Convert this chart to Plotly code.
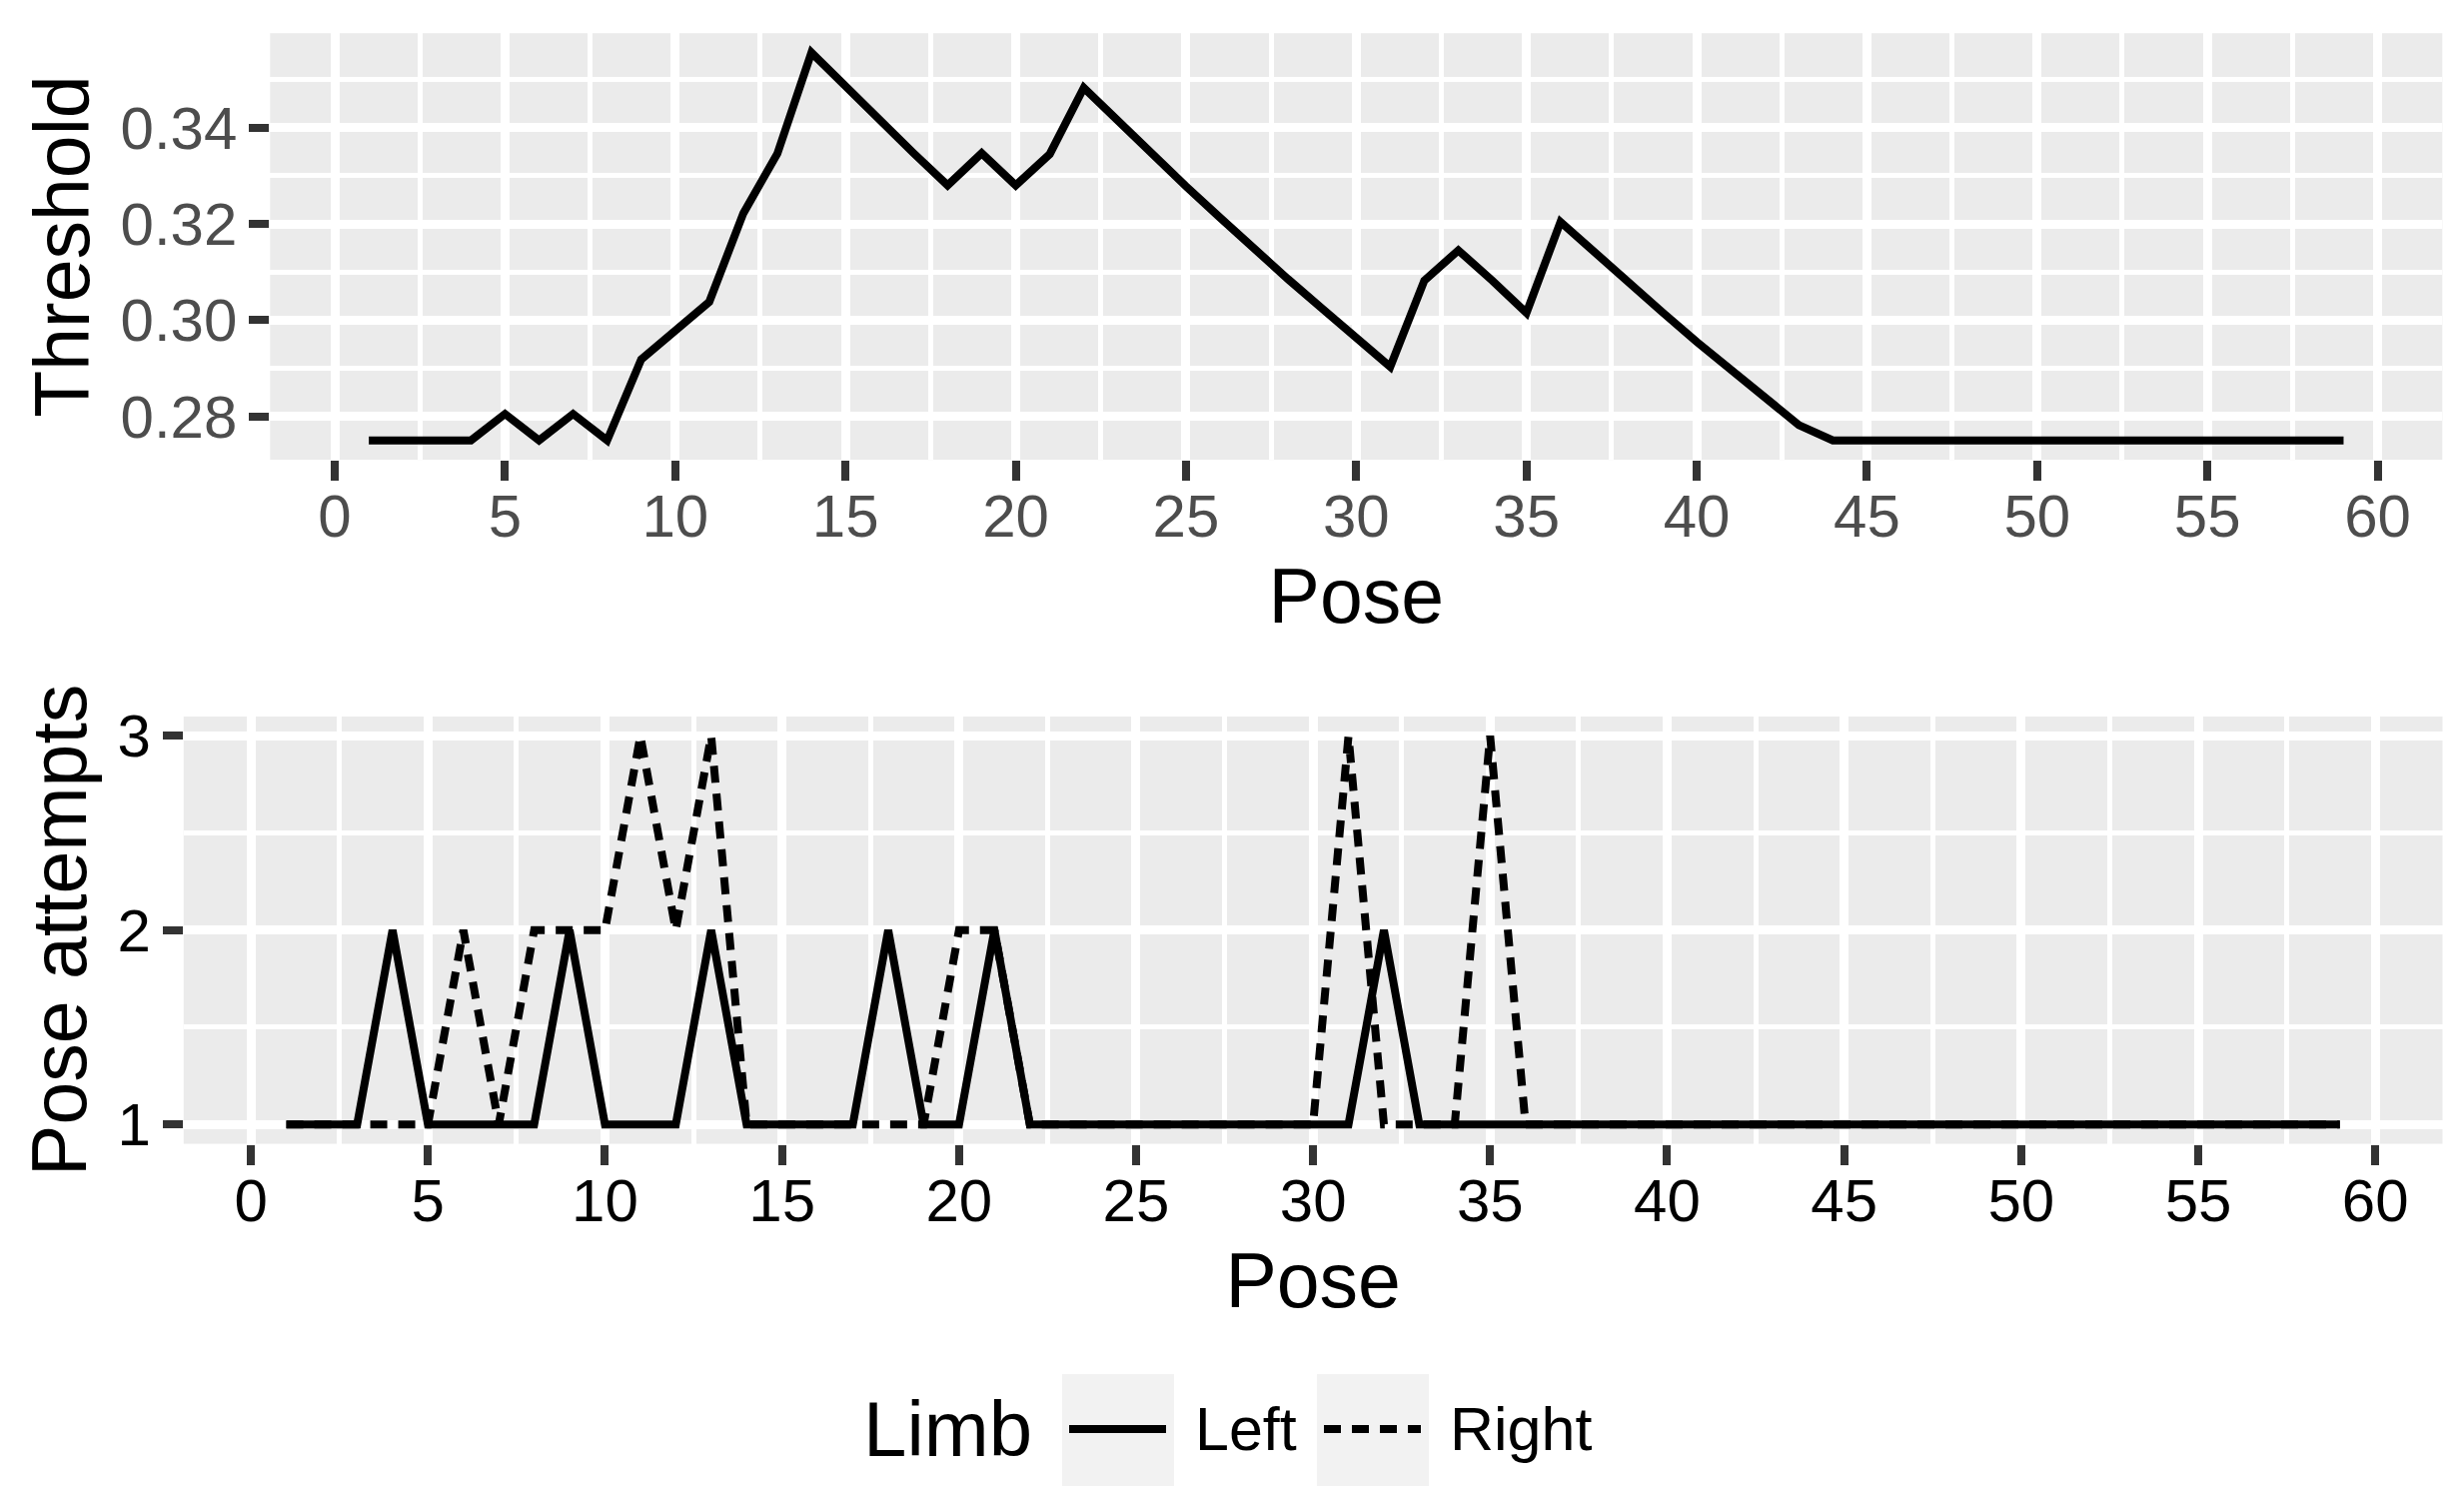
import plotly.graph_objects as go

# ---------------- data ----------------
pose = list(range(1, 60))

threshold = [
    0.275, 0.275, 0.275, 0.275, 0.2805, 0.275, 0.2805, 0.275,
    0.2918, 0.2978, 0.3038, 0.3222, 0.3346, 0.3556, 0.3485, 0.3415,
    0.3347, 0.3280, 0.3347, 0.3280, 0.3345, 0.3483, 0.3413, 0.3345,
    0.3278, 0.3213, 0.3148, 0.3085, 0.3024, 0.2963, 0.2903, 0.3082,
    0.3145, 0.3082, 0.3015, 0.3204, 0.3140, 0.3077, 0.3016, 0.2955,
    0.2896, 0.2838, 0.2782,
    0.275, 0.275, 0.275, 0.275, 0.275, 0.275, 0.275, 0.275,
    0.275, 0.275, 0.275, 0.275, 0.275, 0.275, 0.275, 0.275,
]

left_attempts = [
    1, 1, 1, 2, 1, 1, 1, 1, 2, 1,
    1, 1, 2, 1, 1, 1, 1, 2, 1, 1,
    2, 1, 1, 1, 1, 1, 1, 1, 1, 1,
    1, 2, 1, 1, 1, 1, 1, 1, 1, 1,
    1, 1, 1, 1, 1, 1, 1, 1, 1, 1,
    1, 1, 1, 1, 1, 1, 1, 1, 1,
]

right_attempts = [
    1, 1, 1, 1, 1, 2, 1, 2, 2, 2,
    3, 2, 3, 1, 1, 1, 1, 1, 1, 2,
    2, 1, 1, 1, 1, 1, 1, 1, 1, 1,
    3, 1, 1, 1, 3, 1, 1, 1, 1, 1,
    1, 1, 1, 1, 1, 1, 1, 1, 1, 1,
    1, 1, 1, 1, 1, 1, 1, 1, 1,
]

x_ticks = [0, 5, 10, 15, 20, 25, 30, 35, 40, 45, 50, 55, 60]
thr_ticks = [0.28, 0.30, 0.32, 0.34]
att_ticks = [1, 2, 3]
legend_title = "Limb"
legend_labels = ["Left", "Right"]

# ---------------- style ----------------
W, H = 2466, 1499
FONT = "Liberation Sans, Arial, Helvetica, sans-serif"
PANEL = "#EBEBEB"
KEYBG = "#F2F2F2"
TICKC = "#333333"
GRAY_TXT = "#4D4D4D"
LW = 8
DASH = "17px,11px"
TITLE_SIZE = 77
TICK_SIZE = 60


def expand(lo, hi, f=0.05):
    d = (hi - lo) * f
    return [lo - d, hi + d]


xr = expand(min(pose), max(pose))
yr_top = expand(min(threshold), max(threshold))
yr_bot = expand(min(left_attempts + right_attempts), max(left_attempts + right_attempts))

fig = go.Figure()
fig.add_trace(go.Scatter(x=pose, y=threshold, mode="lines",
                         line=dict(color="black", width=LW),
                         xaxis="x", yaxis="y", showlegend=False))
fig.add_trace(go.Scatter(x=pose, y=left_attempts, mode="lines", name=legend_labels[0],
                         line=dict(color="black", width=LW),
                         xaxis="x2", yaxis="y2", showlegend=False))
fig.add_trace(go.Scatter(x=pose, y=right_attempts, mode="lines", name=legend_labels[1],
                         line=dict(color="black", width=LW, dash=DASH),
                         xaxis="x2", yaxis="y2", showlegend=False))


def px_x(v):
    return v / W


def px_y(v):
    return 1 - v / H


minor_x = [v + 2.5 for v in x_ticks[:-1]]


def xaxis(domain, anchor, color):
    return dict(
        domain=domain, anchor=anchor, range=xr, automargin=False,
        tickvals=x_ticks, ticktext=[str(v) for v in x_ticks],
        ticks="outside", ticklen=20, tickwidth=8, tickcolor=TICKC,
        ticklabelstandoff=-16,
        tickfont=dict(family=FONT, size=TICK_SIZE, color=color),
        showgrid=True, gridcolor="white", gridwidth=8.5,
        minor=dict(tickvals=minor_x, showgrid=True, gridcolor="white", gridwidth=4.5, ticks=""),
        zeroline=False, showline=False,
        title=dict(text="Pose", font=dict(family=FONT, size=TITLE_SIZE, color="black"), standoff=20),
    )


def yaxis(domain, anchor, rng, tv, tt, minor_vals, color, title):
    return dict(
        domain=domain, anchor=anchor, range=rng, automargin=False,
        tickvals=tv, ticktext=tt,
        ticks="outside", ticklen=20, tickwidth=8, tickcolor=TICKC,
        tickfont=dict(family=FONT, size=TICK_SIZE, color=color),
        showgrid=True, gridcolor="white", gridwidth=8.5,
        minor=dict(tickvals=minor_vals, showgrid=True, gridcolor="white", gridwidth=4.5, ticks=""),
        zeroline=False, showline=False,
        title=dict(text=title, font=dict(family=FONT, size=TITLE_SIZE, color="black"), standoff=5),
    )


top_x_dom = [px_x(270.3), px_x(2444.3)]
bot_x_dom = [px_x(183.8), px_x(2444.5)]
top_y_dom = [px_y(460.1), px_y(33.2)]
bot_y_dom = [px_y(1144.6), px_y(717.0)]

fig.update_layout(
    width=W, height=H, autosize=False,
    margin=dict(l=0, r=0, t=0, b=0, pad=0, autoexpand=False),
    paper_bgcolor="white", plot_bgcolor=PANEL,
    font=dict(family=FONT, color="black"),
    showlegend=False,
    xaxis=xaxis(top_x_dom, "y", GRAY_TXT),
    yaxis=yaxis(top_y_dom, "x", yr_top, thr_ticks, ["%.2f" % v for v in thr_ticks],
                [0.27, 0.29, 0.31, 0.33, 0.35], GRAY_TXT, "Threshold"),
    xaxis2=xaxis(bot_x_dom, "y2", "black"),
    yaxis2=yaxis(bot_y_dom, "x2", yr_bot, att_ticks, [str(v) for v in att_ticks],
                 [1.5, 2.5], "black", "Pose attempts"),
)

# ---------------- legend (drawn manually, ggplot style) ----------------
shapes = []
annotations = []
key_y = 1430
boxes = [(1063, 1175), (1318, 1430)]
dashes = ["solid", DASH]
for (x0, x1), d, lab in zip(boxes, dashes, legend_labels):
    shapes.append(dict(type="rect", xref="paper", yref="paper",
                       x0=px_x(x0), x1=px_x(x1), y0=px_y(1487), y1=px_y(1375),
                       fillcolor=KEYBG, line=dict(width=0), layer="below"))
    shapes.append(dict(type="line", xref="paper", yref="paper",
                       x0=px_x(x0 + 7), x1=px_x(x1 - 8), y0=px_y(key_y), y1=px_y(key_y),
                       line=dict(color="black", width=LW, dash=d)))
    annotations.append(dict(text=lab, xref="paper", yref="paper", x=px_x(x1 + 19), y=px_y(key_y),
                            xanchor="left", yanchor="middle", showarrow=False,
                            font=dict(family=FONT, size=TICK_SIZE + 1, color="black")))
annotations.append(dict(text=legend_title, xref="paper", yref="paper", x=px_x(862), y=px_y(key_y),
                        xanchor="left", yanchor="middle", showarrow=False,
                        font=dict(family=FONT, size=TITLE_SIZE + 1, color="black")))
fig.update_layout(shapes=shapes, annotations=annotations)

fig.write_html("out.html", config={"displayModeBar": False},
               post_script="document.body.style.margin='0';")
